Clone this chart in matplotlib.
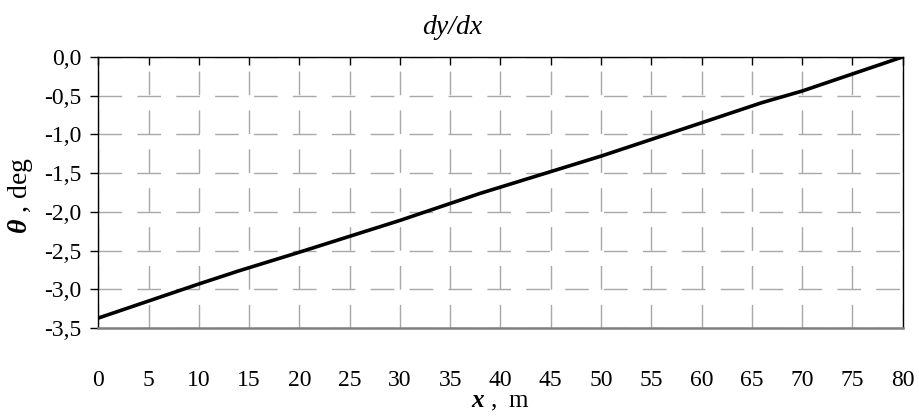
import matplotlib
matplotlib.use("Agg")
import matplotlib.pyplot as plt

plt.rcParams['font.family'] = ['Liberation Serif', 'DejaVu Serif']
plt.rcParams['mathtext.fontset'] = 'custom'
plt.rcParams['mathtext.rm'] = 'Liberation Serif'
plt.rcParams['mathtext.it'] = 'Liberation Serif:italic'
plt.rcParams['mathtext.bf'] = 'Liberation Serif:bold'
plt.rcParams['mathtext.bfit'] = 'Liberation Serif:italic:bold'

# values
x = [0, 10, 14, 20, 30, 38, 40, 50, 60, 66, 70, 80]
theta = [-3.37, -2.93, -2.76, -2.52, -2.11, -1.76, -1.68, -1.28, -0.85, -0.59, -0.44, 0.0]

xticks = list(range(0, 81, 5))
yticks = [0.0, -0.5, -1.0, -1.5, -2.0, -2.5, -3.0, -3.5]
ylabels = ['0,0', '-0,5', '-1,0', '-1,5', '-2,0', '-2,5', '-3,0', '-3,5']

fig = plt.figure(figsize=(9.2, 4.19), dpi=100)
ax = fig.add_axes([0.107, 0.217, 0.874, 0.647])

ax.plot(x, theta, color='black', lw=2.6, solid_capstyle='round', zorder=3)

ax.set_xlim(0, 80)
ax.set_ylim(-3.5, 0)
ax.set_xticks(xticks)
ax.set_xticklabels([str(v) for v in xticks])
ax.set_yticks(yticks)
ax.set_yticklabels(ylabels)

ax.grid(True, color='#a8a8a8', lw=1.0, linestyle=(0, (17, 11)))
ax.tick_params(axis='x', top=True, bottom=False, labeltop=False, labelbottom=True,
               direction='in', length=6, width=1, color='black', pad=30, labelsize=17)
ax.tick_params(axis='y', left=True, right=False, direction='out', length=6, width=1,
               color='black', pad=6, labelsize=17)

for side in ['left', 'top', 'right']:
    ax.spines[side].set_color('black')
    ax.spines[side].set_linewidth(1.0)
ax.spines['bottom'].set_color('#808080')
ax.spines['bottom'].set_linewidth(1.8)

fig.text(452 / 920, 1 - 28 / 419, 'dy/dx', fontsize=20, style='italic',
         ha='center', va='center')
fig.text(500 / 920, 1 - 402 / 419, r'$\boldsymbol{x}$ ,  m', fontsize=18,
         ha='center', va='center')
fig.text(21 / 920, 1 - 196 / 419, r'$\boldsymbol{\theta}$ , deg', fontsize=20,
         ha='center', va='center', rotation=90)

fig.savefig('out.png', dpi=100)
